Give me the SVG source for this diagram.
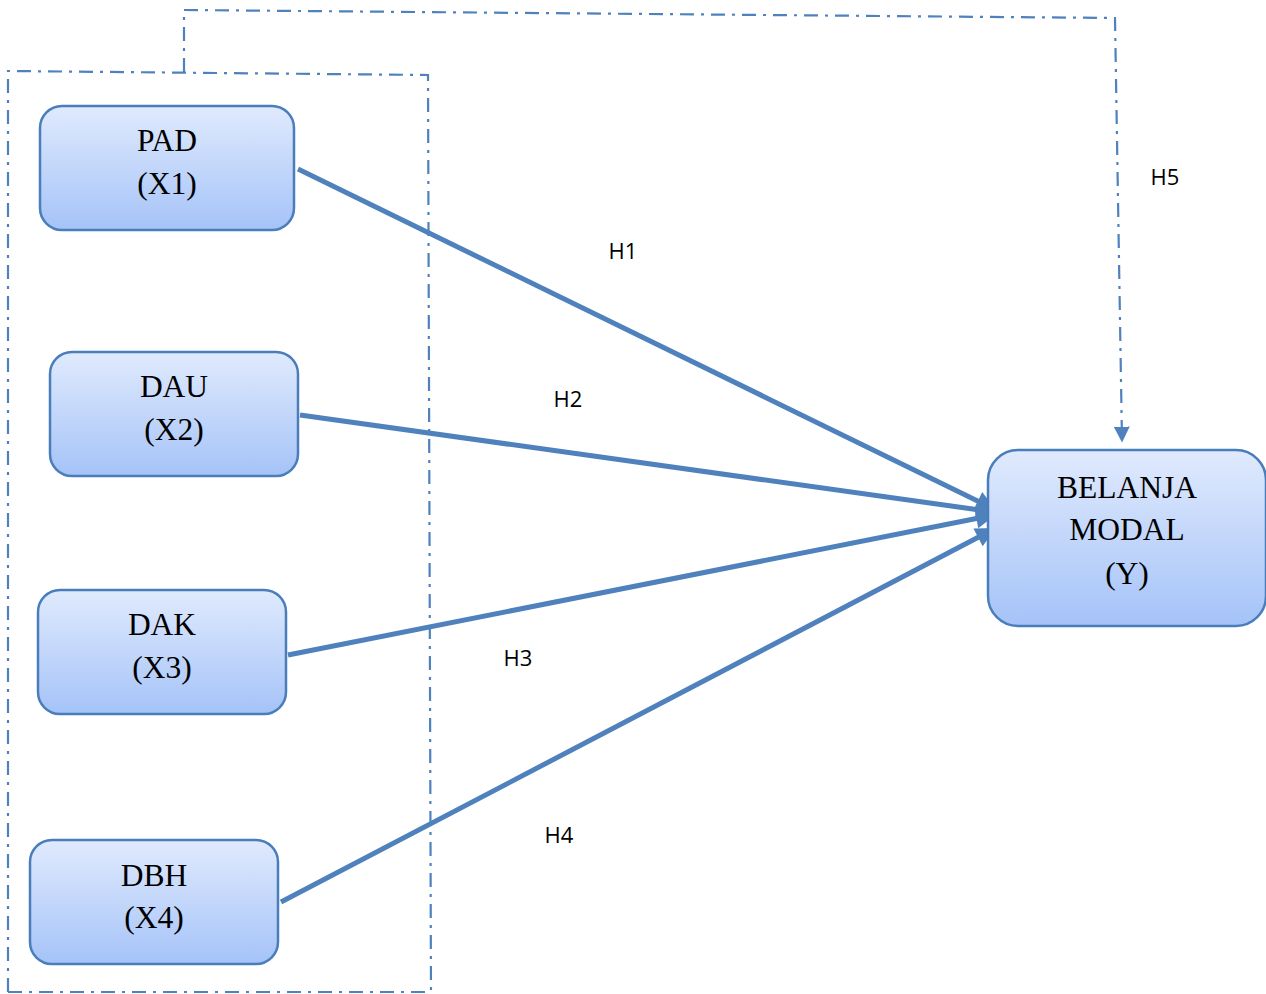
<svg xmlns="http://www.w3.org/2000/svg" width="1266" height="994" viewBox="0 0 1266 994">
<defs>
<linearGradient id="g" x1="0" y1="0" x2="0" y2="1">
<stop offset="0" stop-color="#e0eafd"/>
<stop offset="1" stop-color="#a5c3f8"/>
</linearGradient>
<marker id="ah" viewBox="0 0 10 10" refX="9" refY="5" markerWidth="24" markerHeight="20" markerUnits="userSpaceOnUse" orient="auto">
<path d="M0,0 L10,5 L0,10 z" fill="#4f81bd"/>
</marker>
<marker id="ah5" viewBox="0 0 10 10" refX="9" refY="5" markerWidth="16" markerHeight="16" markerUnits="userSpaceOnUse" orient="auto">
<path d="M0,0 L10,5 L0,10 z" fill="#4f81bd"/>
</marker>
</defs>
<style>
.box{fill:url(#g);stroke:#4a7ebb;stroke-width:2.5}
.nt{font-family:"Liberation Serif",serif;font-size:31.5px;fill:#000;text-anchor:middle}
.lb{font-family:"Open Sans","Liberation Sans",sans-serif;font-size:22px;fill:#000;text-anchor:middle}
.dd{fill:none;stroke:#4f81bd;stroke-width:2.2;stroke-dasharray:14 7 3 7}
.ar{fill:none;stroke:#4f81bd;stroke-width:5;marker-end:url(#ah)}
</style>
<rect width="1266" height="994" fill="#fff"/>
<g id="frame">
<path class="dd" d="M8,992 L8,71 L428,75 L431,994"/>
<path class="dd" d="M8,992 L431,992"/>
</g>
<g id="connectors">
<path class="dd" d="M184,72 L184,10 L1115,18 L1122,441" marker-end="url(#ah5)"/>
<line class="ar" x1="298" y1="169" x2="994" y2="509"/>
<line class="ar" x1="300" y1="415" x2="994" y2="512"/>
<line class="ar" x1="288" y1="655" x2="994" y2="515"/>
<line class="ar" x1="281" y1="902" x2="994" y2="529"/>
<text class="lb" x="623" y="259">H1</text>
<text class="lb" x="568" y="407">H2</text>
<text class="lb" x="518" y="666">H3</text>
<text class="lb" x="559" y="843">H4</text>
<text class="lb" x="1165" y="185">H5</text>
</g>
<g id="pad">
<rect class="box" x="40" y="106" width="254" height="124" rx="22"/>
<text class="nt" x="167" y="151">PAD</text>
<text class="nt" x="167" y="194">(X1)</text>
</g>
<g id="dau">
<rect class="box" x="50" y="352" width="248" height="124" rx="22"/>
<text class="nt" x="174" y="397">DAU</text>
<text class="nt" x="174" y="440">(X2)</text>
</g>
<g id="dak">
<rect class="box" x="38" y="590" width="248" height="124" rx="22"/>
<text class="nt" x="162" y="635">DAK</text>
<text class="nt" x="162" y="678">(X3)</text>
</g>
<g id="dbh">
<rect class="box" x="30" y="840" width="248" height="124" rx="22"/>
<text class="nt" x="154" y="886">DBH</text>
<text class="nt" x="154" y="928">(X4)</text>
</g>
<g id="belanja">
<rect class="box" x="988" y="450" width="278" height="176" rx="30"/>
<text class="nt" x="1127" y="498">BELANJA</text>
<text class="nt" x="1127" y="540">MODAL</text>
<text class="nt" x="1127" y="584">(Y)</text>
</g>
</svg>
